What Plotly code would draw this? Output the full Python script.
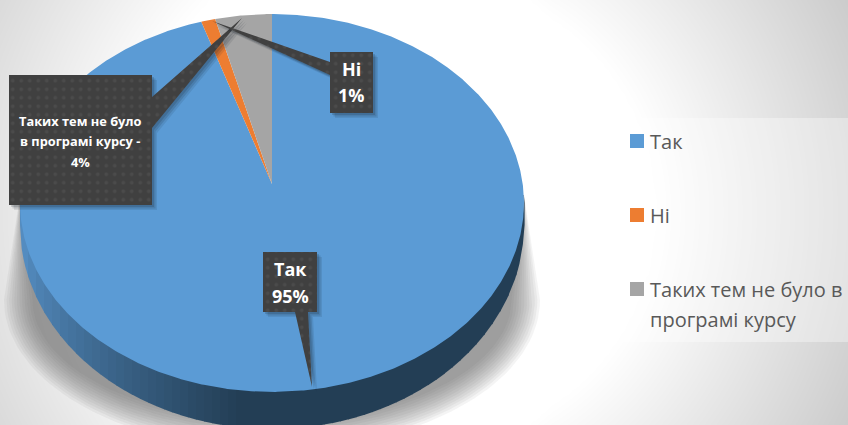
import numpy as np
import plotly.graph_objects as go

# ---- data ----
categories = ["Так", "Ні", "Таких тем не було в<br>програмі курсу"]
values = [95, 1, 4]
colors = ["#5B9BD5", "#ED7D31", "#A5A5A5"]
label_lines = [["Так", "95%"], ["Ні", "1%"], ["Таких тем не було", "в програмі курсу -", "4%"]]

W, H = 848, 425
# perspective disc: apex (centre of the pie) and projection
AX, AY = 272, 184
A, B, K = 250.7, 187.0, -0.1005


def project(theta):
    u, v = np.sin(theta), np.cos(theta)
    d = 1 - K * v
    return AX + A * u / d, AY - B * v / d


def top_y(x):
    t = np.clip((x - 272) / 252, -1, 1)
    return 203 + 189 * np.sqrt(1 - t * t)


def low_y(x):
    t = np.clip((x - 272) / 252, -1, 1)
    return 225 + 204 * np.sqrt(1 - t * t)


fig = go.Figure()

# background radial gradient
gx = np.linspace(0, W, 107)
gy = np.linspace(0, H, 54)
XX, YY = np.meshgrid(gx, gy)
R = np.hypot(XX - 424, YY - 212)
R0 = 230 + 70 * np.clip((424 - XX) / 250 + 0.5, 0, 1)
Z = 255 - np.clip(R - R0, 0, None) * 0.21
fig.add_trace(go.Heatmap(x=gx, y=gy, z=Z, zmin=0, zmax=255, zsmooth="best", showscale=False,
                         colorscale=[[0, "rgb(0,0,0)"], [1, "rgb(255,255,255)"]], hoverinfo="skip"))


def poly(x, y, color, **kw):
    fig.add_trace(go.Scatter(x=list(x), y=list(y), mode="lines", fill="toself", fillcolor=color,
                             line=dict(width=0, color=color), hoverinfo="skip", **kw))


# legend panel
poly([617, 848, 848, 617], [118, 118, 342, 342], "rgba(255,255,255,0.35)")

# soft shadow under the pie
for i in range(12):
    rx = 268 - 2.6 * i
    ry = 150 - 2.6 * i
    th = np.linspace(0, np.pi, 80)
    sx = 272 + rx * np.cos(th)
    sy = 300 + ry * np.sin(th)
    poly(np.r_[524, sx, 20], np.r_[195, sy, 195], "rgba(90,90,90,0.065)")

# side wall, shaded strip by strip
edges = np.linspace(20, 524, 64)
c_left = np.array([84, 140, 192])
c_dark = np.array([35, 62, 85])
for a, b in zip(edges[:-1], edges[1:]):
    m = (a + b) / 2
    f = np.clip((m - 25) / 215, 0, 1) ** 0.75
    c = (c_left * (1 - f) + c_dark * f).round().astype(int)
    col = f"rgb({c[0]},{c[1]},{c[2]})"
    xs = np.linspace(a, b + 0.6, 6)
    poly(np.r_[xs, xs[::-1]], np.r_[top_y(xs) - 6, low_y(xs[::-1])], col)

# pie face
total = sum(values)
start = 0.0
for v, col in zip(values, colors):
    end = start + v / total * 2 * np.pi
    th = np.linspace(start, end, max(8, int(v * 8)))
    px, py = project(th)
    poly(np.r_[AX, px], np.r_[AY, py], col)
    start = end


# call-outs
def callout(x, y):
    for o, a in ((5, 0.10), (3.5, 0.14), (2, 0.16)):
        poly(np.array(x) + o, np.array(y) + o, f"rgba(20,30,40,{a})")
    fig.add_trace(go.Scatter(x=x, y=y, mode="lines", fill="toself", fillcolor="#404040",
                             fillpattern=dict(shape=".", size=8.5, solidity=0.14, fgcolor="#565656", bgcolor="#404040"),
                             line=dict(width=0), hoverinfo="skip"))


callout([9, 152, 152, 242, 152, 152, 9, 9], [75, 75, 97, 18, 128, 205, 205, 75])
callout([330, 373, 373, 330, 330, 212, 330, 330], [52, 52, 113, 113, 75, 21, 62, 52])
callout([263, 317, 317, 308, 312, 295, 263, 263], [252, 252, 312, 312, 387, 312, 312, 252])

ann = []
def text(x, y, s, size, color, bold=False, anchor="center"):
    ann.append(dict(x=x, y=y, text=f"<b>{s}</b>" if bold else s, showarrow=False, xanchor=anchor, yanchor="middle",
                    xref="x", yref="y", font=dict(family="Open Sans", size=size, color=color), align="left"))

for s, yy in zip(label_lines[0], [269, 296]):
    text(290, yy, s, 18, "white", True)
for s, yy in zip(label_lines[1], [69, 95]):
    text(351, yy, s, 18, "white", True)
for s, yy in zip(label_lines[2], [121, 141, 162]):
    text(80, yy, s, 12.8, "white", True)

# legend
leg_y = [141, 215, 289]
fig.add_trace(go.Scatter(x=[637] * 3, y=leg_y, mode="markers", hoverinfo="skip",
                         marker=dict(symbol="square", size=14, color=colors, line=dict(width=0))))
text(648, 141, categories[0], 20, "#595959", anchor="left")
text(648, 215, categories[1], 20, "#595959", anchor="left")
text(648, 289, categories[2].split("<br>")[0], 20, "#595959", anchor="left")
text(648, 319, categories[2].split("<br>")[1], 20, "#595959", anchor="left")

fig.update_layout(width=W, height=H, margin=dict(l=0, r=0, t=0, b=0), showlegend=False,
                  paper_bgcolor="white", plot_bgcolor="white", annotations=ann,
                  xaxis=dict(range=[0, W], visible=False, fixedrange=True),
                  yaxis=dict(range=[H, 0], visible=False, fixedrange=True))
fig.write_html("out.html", post_script="document.body.style.margin='0';", config=dict(displayModeBar=False))
